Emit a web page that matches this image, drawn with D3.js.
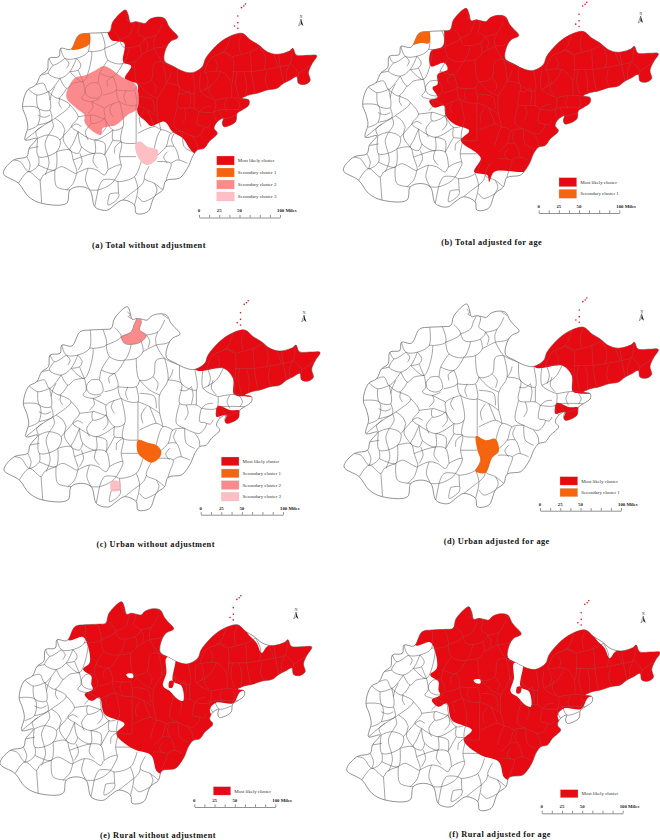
<!DOCTYPE html>
<html>
<head>
  <meta charset="utf-8">
  <title>Shandong clusters</title>
  <script src="https://d3js.org/d3.v7.min.js"></script>
  <style>
    html, body { margin: 0; background: #fff; }
    svg { display: block; }
    text { font-family: 'Liberation Serif', serif; }
  </style>
</head>
<body>
  <svg id="chart" width="660" height="840"></svg>
  <script>
    // map units
    var province = [[383,80],[391,95],[398,118],[413,115],[428,118],[443,120],[453,110],[473,102],[500,105],[513,128],[523,140],[541,162],[518,175],[505,195],[500,232],[525,248],[560,265],[585,268],[615,250],[625,225],[665,180],[700,158],[735,150],[760,170],[785,185],[810,205],[840,213],[878,203],[888,195],[898,215],[935,216],[960,217],[945,243],[935,268],[940,292],[925,303],[905,300],[900,280],[880,290],[860,300],[840,315],[810,320],[780,330],[755,335],[735,345],[755,350],[755,365],[735,380],[720,390],[715,415],[680,430],[675,420],[678,405],[660,415],[650,435],[660,450],[635,475],[620,495],[600,500],[585,520],[575,545],[560,570],[545,585],[505,592],[495,620],[470,640],[450,685],[415,690],[410,665],[375,650],[350,665],[330,680],[310,680],[290,670],[275,620],[245,610],[215,620],[205,660],[130,660],[90,640],[60,600],[14,570],[45,530],[85,520],[92,495],[115,465],[80,470],[88,430],[82,400],[72,370],[87,320],[112,305],[127,275],[147,260],[152,225],[182,220],[187,195],[217,198],[242,155],[272,150],[312,148],[335,145],[345,115]];

    var borders = [
      [[187,195],[200,225],[235,225],[270,205],[272,150]],
      [[152,225],[165,245],[200,225]],
      [[165,245],[150,270],[185,285],[215,265],[235,225]],
      [[127,275],[150,270]],
      [[112,305],[135,300],[150,325],[185,285]],
      [[87,315],[115,335],[150,325]],
      [[115,335],[120,375],[155,380],[150,325]],
      [[72,370],[120,375],[118,425],[88,440]],
      [[155,380],[160,410],[118,425]],
      [[185,285],[205,315],[225,300],[255,295]],
      [[205,315],[180,345],[150,325]],
      [[80,470],[130,430],[170,405],[215,365],[180,345]],
      [[215,265],[255,295],[280,205],[270,205]],
      [[280,205],[320,195],[310,148]],
      [[320,195],[365,170],[345,142]],
      [[365,170],[395,155],[405,130],[418,110],[425,125],[420,150],[440,165],[425,185],[395,193],[375,190],[365,170]],
      [[320,195],[330,230],[375,240],[395,193]],
      [[425,185],[430,215],[410,235],[375,240]],
      [[440,165],[475,155],[495,120]],
      [[430,215],[470,195],[500,190],[522,177]],
      [[470,195],[495,235],[540,255]],
      [[410,235],[420,300],[460,290],[470,240],[495,235]],
      [[540,255],[545,310],[590,330],[585,268]],
      [[255,295],[260,330],[250,345],[280,355],[305,345]],
      [[275,300],[300,300],[310,335],[290,345],[265,335],[262,315],[275,300]],
      [[330,230],[305,270],[300,300]],
      [[305,270],[345,280],[375,240]],
      [[345,280],[355,320],[315,335]],
      [[355,320],[410,320],[420,300]],
      [[410,320],[415,365],[365,355],[355,320]],
      [[365,355],[320,375],[320,405],[300,400],[280,395],[280,420],[305,415],[320,405]],
      [[320,375],[280,355]],
      [[215,365],[240,400],[220,430],[240,445]],
      [[240,400],[280,395]],
      [[320,405],[345,440],[375,430],[365,355]],
      [[415,365],[450,380],[480,400]],
      [[118,465],[150,455],[185,470],[175,505],[120,520],[118,465]],
      [[92,495],[120,490]],
      [[120,520],[120,545],[90,565],[65,535],[45,530]],
      [[120,545],[170,560],[175,505]],
      [[60,600],[90,565],[125,590],[135,575],[170,560]],
      [[170,560],[175,610],[215,620]],
      [[125,590],[130,660]],
      [[185,470],[220,430]],
      [[240,445],[225,480],[215,500],[240,510],[250,490]],
      [[175,505],[215,500],[225,530],[235,570],[190,550],[170,560]],
      [[235,570],[270,555],[295,560],[320,575],[330,560],[370,545],[350,590],[335,605],[300,620],[275,620]],
      [[240,445],[290,470],[345,440]],
      [[290,470],[290,510],[250,490],[240,445]],
      [[225,530],[290,510],[320,515],[330,560]],
      [[320,515],[320,480],[290,470]],
      [[345,440],[345,470],[370,475],[365,520],[370,545]],
      [[320,515],[345,470]],
      [[375,430],[370,475],[415,480]],
      [[415,365],[415,430],[415,480]],
      [[415,520],[365,520]],
      [[430,535],[410,580],[360,595],[350,590]],
      [[410,580],[420,615],[410,665]],
      [[455,548],[440,585],[470,600],[495,620]],
      [[478,535],[520,540],[510,575],[505,592]],
      [[480,515],[505,490],[520,450],[555,445]],
      [[520,540],[540,530],[570,540]],
      [[505,490],[530,490],[545,530]],
      [[555,445],[560,490],[585,505]],
      [[420,450],[470,430],[490,440]],
      [[470,495],[490,440],[520,450]],
      [[450,380],[470,430]],
      [[480,400],[490,440]],
      [[495,235],[505,300],[480,345],[480,400]],
      [[420,300],[450,330],[480,345]],
      [[505,300],[545,310],[540,370],[590,375],[605,385]],
      [[540,370],[530,430],[555,445]],
      [[590,330],[590,375]],
      [[605,385],[600,425],[620,430],[600,460],[555,445]],
      [[610,268],[610,325],[655,350]],
      [[670,265],[650,300],[610,325]],
      [[655,350],[650,385],[605,385]],
      [[655,350],[703,343],[745,348]],
      [[620,268],[672,265],[700,295],[703,343]],
      [[620,268],[640,225],[680,205],[700,158]],
      [[680,205],[705,220],[705,300]],
      [[705,220],[760,205],[790,190]],
      [[760,205],[765,280],[775,333]],
      [[705,265],[765,265]],
      [[765,265],[850,250],[880,240],[885,197]],
      [[850,250],[845,215]],
      [[850,250],[860,300]],
      [[880,240],[905,270],[900,285]],
      [[905,270],[945,243]],
      [[665,380],[680,405],[716,395]],
      [[650,385],[665,380],[735,380]],
      [[335,632],[330,665],[360,645],[362,630],[335,632]],
      [[360,595],[362,630]],
      [[290,670],[300,620]],
      [[375,650],[400,630],[420,615]],
      // second pass of smaller county borders
      [[475,155],[468,175],[470,195]],
      [[440,165],[450,182],[445,203]],
      [[505,300],[515,285],[520,268]],
      [[460,290],[475,310],[470,332]],
      [[420,340],[445,342],[465,350],[470,385]],
      [[540,330],[558,332],[575,320]],
      [[575,320],[580,345],[575,372]],
      [[625,270],[632,295],[625,320]],
      [[650,225],[660,245],[655,265]],
      [[700,220],[685,210],[670,207]],
      [[735,150],[725,180],[730,210]],
      [[790,190],[805,225],[800,262]],
      [[810,262],[805,295],[815,320]],
      [[845,250],[838,232],[830,213]],
      [[720,265],[715,300],[725,340]],
      [[740,265],[748,305],[745,342]],
      [[880,240],[868,270],[870,297]],
      [[85,520],[95,545],[90,565]],
      [[150,455],[140,480],[145,505]],
      [[145,505],[152,540],[140,575]],
      [[205,620],[225,600],[235,570]],
      [[270,555],[262,590],[275,620]],
      [[300,620],[315,590],[350,590]],
      [[440,585],[435,600],[420,615]],
      [[470,600],[478,620],[470,640]],
      [[420,640],[435,655],[452,650],[470,640]],
      [[510,540],[498,522],[510,505]],
      [[530,490],[522,470],[530,450]],
      [[370,475],[352,490],[350,510]],
      [[245,510],[252,535],[240,560]],
      [[290,510],[285,535],[300,555]],
      [[200,440],[195,470],[215,500]],
      [[170,405],[190,420],[200,440]],
      [[160,410],[165,430],[150,455]],
      [[130,430],[112,445],[118,465]],
      [[235,225],[248,245],[240,260],[215,265]],
      [[255,295],[248,280],[240,260]],
      [[200,225],[212,240],[205,255]],
      [[170,310],[160,330],[155,350]],
      [[118,395],[138,402],[155,395]],
      [[185,345],[182,360],[190,375]],
      [[280,355],[285,372],[270,390]],
      [[345,280],[328,292],[330,310]],
      [[385,320],[378,340],[385,360]],
      [[345,360],[335,380],[345,400]],
      [[440,380],[425,405],[430,430]],
      [[280,420],[262,445],[270,470]],
      [[320,405],[325,430],[310,450]],
      [[220,430],[235,422],[250,430]],
      [[605,385],[622,372],[640,370]],
      [[560,375],[565,400],[555,420]],
      [[620,430],[632,432],[640,420]],
      [[585,460],[598,480],[600,500]],
      [[650,385],[652,402],[665,420]],
      [[690,345],[682,365],[690,385]],
      [[720,350],[728,365],[720,380]],
      [[640,300],[635,325],[650,345]],
      [[383,95],[392,105],[386,110],[395,115]],
      [[488,104],[498,110],[505,116]]
    ];

    var islands = [[745,62],[740,68],[733,73],[722,98],[722,118],[712,128],[722,135]];

    // cluster outlines, clipped to the province when drawn
    var redTotal = [[340,0],[338,168],[379,180],[376,235],[400,248],[381,285],[408,300],[420,320],[420,390],[445,415],[460,428],[500,415],[525,445],[556,465],[576,495],[590,510],[700,560],[1000,500],[1000,0]];
    var holeTotal = [[388,300],[416,300],[420,320],[395,322]];
    var orangeTotal = [[218,198],[243,155],[273,150],[275,180],[253,195]];
    var pinkTotal = [[318,248],[378,285],[414,305],[419,375],[389,395],[354,425],[314,435],[309,455],[279,440],[259,415],[259,395],[229,370],[204,340],[229,285],[264,275],[294,260]];
    var paleTotal = [[414,480],[429,475],[449,490],[480,500],[475,530],[450,545],[435,540],[414,505]];
    var redAge = [[317,0],[317,143],[312,195],[277,210],[277,255],[317,245],[327,265],[297,280],[297,310],[282,320],[297,350],[272,360],[287,380],[317,375],[322,405],[347,430],[392,450],[367,480],[417,520],[427,535],[407,575],[447,585],[452,605],[467,575],[557,575],[700,560],[1000,500],[1000,0]];
    var orangeAge = [[220,190],[247,150],[270,147],[272,185],[247,185]];
    var redUrbanNorth = [[585,268],[672,265],[700,295],[703,343],[750,350],[1000,345],[1000,100],[600,100]];
    var redUrbanSouth = [[655,378],[690,390],[720,392],[716,418],[690,432],[672,432],[680,405],[650,410]];
    var orangeUrban = [[415,480],[445,488],[470,495],[485,515],[478,535],[455,548],[430,535],[415,520]];
    var pinkUrban = [[365,170],[395,155],[405,130],[418,110],[425,125],[420,150],[440,165],[425,185],[395,193],[375,190]];
    var paleUrban = [[335,605],[360,605],[362,630],[335,632]];
    var orangeUrbanAge = [[412,478],[440,490],[470,486],[480,523],[460,543],[440,588],[410,583],[425,553],[415,518]];
    var redRural = [[220,0],[220,195],[266,187],[281,215],[286,265],[266,285],[291,305],[291,330],[296,345],[271,360],[291,380],[316,370],[331,420],[392,450],[367,480],[418,525],[473,545],[489,592],[505,600],[620,560],[665,450],[651,405],[671,385],[722,387],[745,352],[800,352],[1000,350],[1000,180],[828,213],[808,235],[793,205],[760,165],[760,0]];
    var corridorRural = [[519,250],[545,250],[539,320],[565,335],[570,380],[554,375],[529,350],[509,335],[519,295]];
    var holeRural = [[397,300],[416,298],[418,310],[405,310]];
    var isletRural = [[529,320],[541,320],[537,340],[527,340]];

    var clusterNames = ['Most likely cluster', 'Secondary cluster 1', 'Secondary cluster 2', 'Secondary cluster 3'];
    var clusterColors = ['#e60a12', '#f5640f', '#fb8a8c', '#fdbfc3'];
    var borderColors = ['#b8444a', '#c9682f', '#b9686c', '#d8a0a4'];
    var mileTicks = [0, 12.5, 25, 37.5, 50, 62.5, 75, 87.5, 100];
    var mileLabels = [0, 25, 50, 100];

    var panels = [
      { id: 'a', title: '(a) Total without adjustment', xr: [3.3, 316.7], yr: [10, 213.3],
        fills: [[redTotal, 0], [holeTotal, -1], [orangeTotal, 1], [pinkTotal, 2], [paleTotal, 3]], nLegend: 4,
        swX: 216.7, swY: [156, 168, 180, 192], swW: 17.6, swH: 9, bar: [199, 280], barY: 217.5, tx: 149, ty: 248, arrow: [301, 22] },
      { id: 'b', title: '(b) Total adjusted for age', xr: [343.3, 658.3], yr: [8.3, 210],
        fills: [[redAge, 0], [orangeAge, 1]], nLegend: 2,
        swX: 559, swY: [177.7, 189.3], swW: 17.7, swH: 9, bar: [538.7, 619.3], barY: 213, tx: 491.7, ty: 244.5, arrow: [640.7, 19] },
      { id: 'c', title: '(c) Urban without adjustment', xr: [4, 320], yr: [306.7, 510],
        fills: [[redUrbanNorth, 0], [redUrbanSouth, 0], [orangeUrban, 1], [pinkUrban, 2], [paleUrban, 3]], nLegend: 4,
        swX: 221.3, swY: [457, 469, 480.7, 492.3], swW: 17.7, swH: 8.7, bar: [200.7, 283], barY: 514.7, tx: 155.7, ty: 547, arrow: [304, 318] },
      { id: 'd', title: '(d) Urban adjusted for age', xr: [344, 658.3], yr: [304, 506.7],
        fills: [[redUrbanNorth, 0], [redUrbanSouth, 0], [orangeUrbanAge, 1]], nLegend: 2,
        swX: 560, swY: [476.7, 488.3], swW: 17.7, swH: 8.4, bar: [540, 621], barY: 510.7, tx: 496.7, ty: 544, arrow: [641.7, 316.7] },
      { id: 'e', title: '(e) Rural without adjustment', xr: [0, 311.7], yr: [601.7, 803.3],
        fills: [[redRural, 0], [corridorRural, -1], [holeRural, -1], [isletRural, 0]], nLegend: 1,
        swX: 213.3, swY: [786.7], swW: 17.4, swH: 8.4, bar: [194.3, 275.3], barY: 807, tx: 158, ty: 838, arrow: [296, 615] },
      { id: 'f', title: '(f) Rural adjusted for age', xr: [346.7, 660], yr: [606.7, 810],
        fills: [[redRural, 0], [corridorRural, -1], [holeRural, -1], [isletRural, 0]], nLegend: 1,
        swX: 560.3, swY: [789.7], swW: 17.7, swH: 8, bar: [541.7, 622.7], barY: 813.3, tx: 500, ty: 837, arrow: [643.3, 619] }
    ];

    var svg = d3.select('#chart');
    var defs = svg.append('defs');

    panels.forEach(function (p) {
      var x = d3.scaleLinear().domain([14, 960]).range(p.xr);
      var y = d3.scaleLinear().domain([80, 690]).range(p.yr);
      var open = d3.line().x(function (d) { return x(d[0]); }).y(function (d) { return y(d[1]); })
        .curve(d3.curveCatmullRom.alpha(0.5));
      var closed = d3.line().x(function (d) { return x(d[0]); }).y(function (d) { return y(d[1]); })
        .curve(d3.curveCatmullRomClosed.alpha(0.5));

      defs.append('clipPath').attr('id', 'clip-' + p.id).append('path').attr('d', closed(province));

      var g = svg.append('g').attr('class', 'panel-' + p.id);

      g.append('path').attr('d', closed(province))
        .attr('fill', '#fff').attr('stroke', '#4a4a4a').attr('stroke-width', 0.6);

      var land = g.append('g').attr('clip-path', 'url(#clip-' + p.id + ')');

      function drawBorders(parent, colour) {
        parent.selectAll('path.border').data(borders).enter().append('path')
          .attr('class', 'border')
          .attr('d', open)
          .attr('fill', 'none').attr('stroke', colour).attr('stroke-width', 0.55);
      }

      drawBorders(land, '#5a5a5a');

      // each cluster is painted, then its own borders are redrawn in a softer tone
      p.fills.forEach(function (f, i) {
        var colour = f[1] < 0 ? '#fff' : clusterColors[f[1]];
        land.append('path').attr('d', closed(f[0])).attr('fill', colour);
        if (f[1] >= 0) {
          var cid = 'fill-' + p.id + '-' + i;
          defs.append('clipPath').attr('id', cid).append('path').attr('d', closed(f[0]));
          drawBorders(land.append('g').attr('clip-path', 'url(#' + cid + ')'), borderColors[f[1]]);
        }
      });

      g.selectAll('circle').data(islands).enter().append('circle')
        .attr('cx', function (d) { return x(d[0]); })
        .attr('cy', function (d) { return y(d[1]); })
        .attr('r', 0.8).attr('fill', '#d8141c');

      // legend
      var legend = g.append('g');
      var rows = clusterNames.slice(0, p.nLegend);
      legend.selectAll('rect').data(rows).enter().append('rect')
        .attr('x', p.swX)
        .attr('y', function (d, i) { return p.swY[i]; })
        .attr('width', p.swW).attr('height', p.swH)
        .attr('fill', function (d, i) { return clusterColors[i]; })
        .attr('stroke', '#ccc').attr('stroke-width', 0.3);
      legend.selectAll('text').data(rows).enter().append('text')
        .attr('x', p.swX + p.swW + 3.5)
        .attr('y', function (d, i) { return p.swY[i] + p.swH / 2 + 1.6; })
        .attr('font-size', 4.9).attr('fill', '#333')
        .text(function (d) { return d; });

      // scale bar
      var miles = d3.scaleLinear().domain([0, 100]).range(p.bar);
      var axis = d3.axisTop(miles).tickValues(mileTicks).tickSize(2.6).tickSizeOuter(0).tickFormat('');
      var bar = g.append('g').attr('transform', 'translate(0,' + p.barY + ')').call(axis);
      bar.selectAll('line, path').attr('stroke', '#222').attr('stroke-width', 0.5);
      g.selectAll('text.mile').data(mileLabels).enter().append('text')
        .attr('class', 'mile')
        .attr('x', function (d) { return miles(d) - (d === 100 ? 3 : 0); })
        .attr('y', p.barY - 5.2)
        .attr('text-anchor', function (d) { return d === 100 ? 'start' : 'middle'; })
        .attr('font-size', 4.8).attr('font-weight', 'bold').attr('fill', '#222')
        .text(function (d) { return d === 100 ? '100 Miles' : d; });

      // north arrow
      var na = g.append('g').attr('transform', 'translate(' + p.arrow + ')');
      na.append('text').attr('y', -3.6).attr('text-anchor', 'middle').attr('font-size', 3.6).attr('fill', '#222').text('N');
      na.append('path').attr('d', 'M0,-3L-2.4,4L0,2Z').attr('fill', '#fff').attr('stroke', '#222').attr('stroke-width', 0.4);
      na.append('path').attr('d', 'M0,-3L2.4,4L0,2Z').attr('fill', '#222');

      g.append('text').attr('x', p.tx).attr('y', p.ty)
        .attr('text-anchor', 'middle').attr('font-size', 8.3).attr('font-weight', 'bold')
        .attr('letter-spacing', 0.45).attr('fill', '#111')
        .text(p.title);
    });
  </script>
</body>
</html>
